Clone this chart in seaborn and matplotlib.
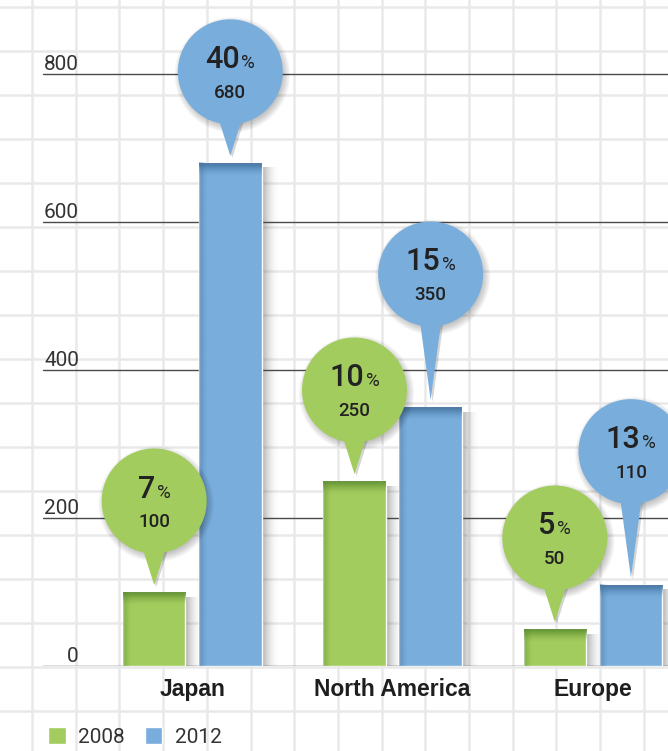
import numpy as np
import pandas as pd
import matplotlib
matplotlib.use("Agg")
import matplotlib.pyplot as plt
import seaborn as sns
from matplotlib import transforms as mtransforms
from matplotlib.patches import Circle, Polygon
from matplotlib.offsetbox import TextArea, HPacker, AnnotationBbox
from matplotlib.colors import to_rgb

# ---------------- data ----------------
regions = ["Japan", "North America", "Europe"]
years = ["2008", "2012"]
values_2008 = [100, 250, 50]
values_2012 = [680, 350, 110]
share_2008 = [7, 10, 5]
share_2012 = [40, 15, 13]
yticks = [0, 200, 400, 600, 800]

# ---------------- style ----------------
colors = {"2008": "#a3cc5e", "2012": "#79aedc"}
dark = {"2008": "#5a8a2c", "2012": "#3f6e9c"}
# bubble tail length (pixels, circle centre -> tip) per year and region
tail_px = {"2008": [84, 84, 84], "2012": [84, 126, 126]}

df = pd.DataFrame({
    "region": regions * 2,
    "year": [years[0]] * 3 + [years[1]] * 3,
    "value": values_2008 + values_2012,
})
shares = {"2008": share_2008, "2012": share_2012}
vals = {"2008": values_2008, "2012": values_2012}

sns.set_theme(style="white")
plt.rcParams["font.family"] = ["Liberation Sans", "DejaVu Sans"]
NUMFONT = ["Roboto", "Liberation Sans", "DejaVu Sans"]

W, H = 668, 751
fig = plt.figure(figsize=(W / 100, H / 100), dpi=100)
fig.patch.set_facecolor("white")

# graph-paper background
bg = fig.add_axes([0, 0, 1, 1], zorder=-10)
bg.set_xlim(0, W)
bg.set_ylim(H, 0)
bg.axis("off")
for x in np.arange(32, W, 43.7):
    bg.axvline(x, color="#e9e9e9", lw=1.8)
for y in np.arange(7, H, 44):
    bg.axhline(y, color="#e9e9e9", lw=1.8)

ax = fig.add_axes([43 / W, (H - 666) / H, 1 - 43 / W, 666 / H])
ax.patch.set_alpha(0)

sns.barplot(data=df, x="region", y="value", hue="year", hue_order=years,
            order=regions, palette=colors, width=0.76, gap=0.18,
            saturation=1, errorbar=None, ax=ax, zorder=3)

ax.set_xlim(-0.745, 2.375)
ax.set_ylim(0, 900)

# horizontal rules + labels above them
for v in yticks:
    ax.axhline(v, color="#4a4a4a", lw=1.0, zorder=1)
    ax.text((79 - 43) / 625, v + 5.4, str(v),
            transform=mtransforms.blended_transform_factory(ax.transAxes, ax.transData),
            ha="right", va="baseline", fontsize=15, color="#333333",
            family=NUMFONT, fontweight="normal")
ax.set_yticks([])
ax.set_xlabel("")
ax.set_ylabel("")
ax.set_xticks(range(len(regions)))
ax.set_xticklabels(regions, fontweight="bold", fontsize=16.5, color="#1e1e1e")
ax.tick_params(axis="x", length=0, pad=8.5)
for s in ax.spines.values():
    s.set_visible(False)

px = 1.0 / 200.3  # data units per pixel in x
py = 900 / 666.0  # data units per pixel in y

for container, year in zip(ax.containers, years):
    dcol = np.array(to_rgb(dark[year]))
    for i, bar in enumerate(container):
        x0, w, h = bar.get_x(), bar.get_width(), bar.get_height()
        xc = x0 + w / 2
        # right-side soft shadow
        t = np.linspace(0, 1, 32)
        sh = np.zeros((1, 32, 4))
        sh[..., :3] = 0.25
        sh[0, :, 3] = 0.42 * (1 - t) ** 2.2
        ax.imshow(sh, extent=[x0 + w, x0 + w + 18 * px, 0, h - 5 * py],
                  aspect="auto", interpolation="bilinear", zorder=2.5)
        # top dark band
        tb = np.zeros((20, 1, 4))
        tb[..., :3] = dcol
        tb[:, 0, 3] = np.linspace(0.0, 0.95, 20) ** 1.6
        ax.imshow(tb, extent=[x0, x0 + w, h - 14 * py, h], origin="lower",
                  aspect="auto", interpolation="bilinear", zorder=3.5)
        # left dark edge
        lb = np.zeros((1, 20, 4))
        lb[..., :3] = dcol
        lb[0, :, 3] = np.linspace(0.6, 0.0, 20) ** 1.4
        ax.imshow(lb, extent=[x0, x0 + 8 * px, 0, h], aspect="auto",
                  interpolation="bilinear", zorder=3.4)

        # speech bubble (inches = 100 px, anchored at bar top)
        trans = fig.dpi_scale_trans + mtransforms.ScaledTranslation(xc, h, ax.transData)
        tip = 0.07
        cy = tip + tail_px[year][i] / 100.0
        r = 0.525
        base_y = cy - r + 0.08
        half = 0.10 * (base_y - tip) / (cy - r - tip)
        half = min(half, 0.16)
        tail = [(-half, base_y), (half, base_y), (0, tip)]
        for k in range(7):
            ax.add_patch(Circle((0.02, cy - 0.03), r + 0.012 * k - 0.02,
                                transform=trans, color="black", alpha=0.035,
                                lw=0, zorder=4.5, clip_on=False))
            ax.add_patch(Polygon([(x + 0.02, y - 0.02) for x, y in tail],
                                 closed=True, transform=trans, color="black",
                                 alpha=0.025, lw=0, zorder=4.5, clip_on=False))
        ax.add_patch(Polygon(tail, closed=True, transform=trans,
                             facecolor=colors[year], lw=0, zorder=5, clip_on=False))
        ax.add_patch(Circle((0, cy), r, transform=trans, facecolor=colors[year],
                            lw=0, zorder=5, clip_on=False))

        big = HPacker(children=[
            TextArea(str(shares[year][i]),
                     textprops=dict(fontsize=22, color="#222222", family=NUMFONT,
                                    fontweight="medium")),
            TextArea("%", textprops=dict(fontsize=13.5, color="#222222",
                                         family=NUMFONT, fontweight="normal")),
        ], align="baseline", pad=0, sep=1)
        ab = AnnotationBbox(big, (xc, h), xybox=(0, (cy * 100 + 12) * 0.72),
                            xycoords="data", boxcoords="offset points",
                            frameon=False, pad=0, box_alignment=(0.5, 0.5),
                            zorder=6, annotation_clip=False)
        ax.add_artist(ab)
        ax.annotate(str(vals[year][i]), (xc, h),
                    xytext=(0, (cy * 100 - 21) * 0.72), textcoords="offset points",
                    ha="center", va="center", fontsize=13.5, color="#222222",
                    family=NUMFONT, fontweight="medium",
                    zorder=6, annotation_clip=False)

ax.set_xlim(-0.745, 2.375)
ax.set_ylim(0, 900)

sns.move_legend(ax, loc="center left", bbox_to_anchor=(48 / W, (H - 737) / H),
                bbox_transform=fig.transFigure, ncol=2, frameon=False, title=None,
                fontsize=15, handlelength=0.85, handleheight=0.85,
                handletextpad=0.6, columnspacing=0.95, borderpad=0,
                borderaxespad=0)
for t in ax.get_legend().get_texts():
    t.set_color("#333333")
    t.set_family(NUMFONT)
    t.set_fontweight("normal")

fig.savefig("out.png", dpi=100)
